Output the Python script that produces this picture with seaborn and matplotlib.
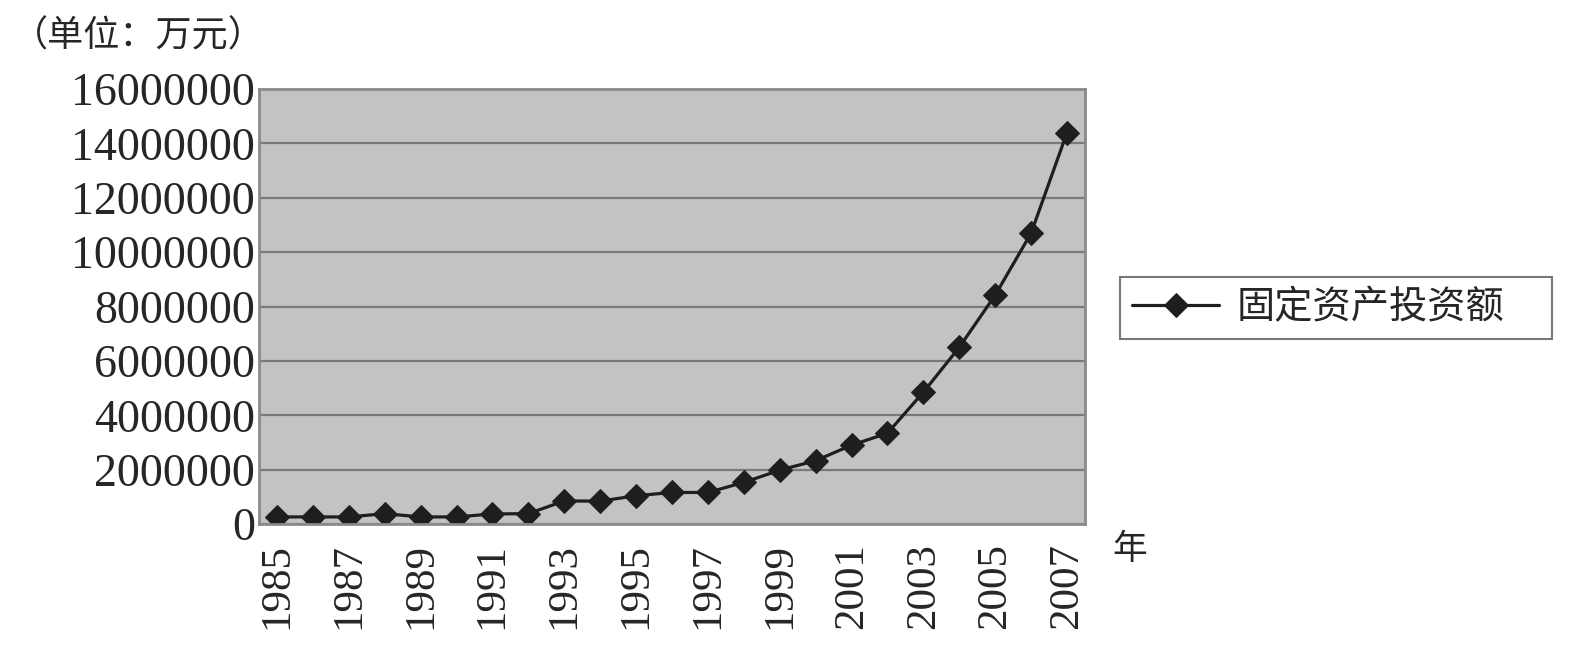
import numpy as np
import pandas as pd
import matplotlib
matplotlib.use("Agg")
import matplotlib.pyplot as plt
from matplotlib.patches import Rectangle
import seaborn as sns

# 固定资产投资额 (万元)
years = list(range(1985, 2008))
invest = [260000, 260000, 260000, 380000, 260000, 260000, 370000, 380000,
          850000, 840000, 1040000, 1160000, 1160000, 1530000, 1980000, 2330000,
          2900000, 3340000, 4850000, 6500000, 8420000, 10700000, 14400000]
yticks = list(range(0, 16000001, 2000000))
series_name = "固定资产投资额"

sns.set_theme(style="white")
plt.rcParams["font.family"] = ["Liberation Serif", "Noto Sans CJK SC", "DejaVu Sans"]

df = pd.DataFrame({"pos": np.arange(len(years)), "value": invest})

fig = plt.figure(figsize=(15.8, 6.46), dpi=100)
ax = fig.add_axes([259 / 1580, 1 - 524 / 646, (1085 - 259) / 1580, (524 - 89) / 646])
ax.set_facecolor("#c3c3c3")

sns.lineplot(data=df, x="pos", y="value", ax=ax, color="#1e1e1e", linewidth=2.3,
             marker="D", markersize=12, markeredgecolor="#1e1e1e", label=series_name)

ax.set_xlim(-0.5, len(years) - 0.5)
ax.set_ylim(0, 16000000)
ax.set_yticks(yticks)
ax.set_yticklabels([str(v) for v in yticks], fontsize=33)
ax.yaxis.grid(True, color="#7a7a7a", linewidth=1.6)
ax.set_axisbelow(True)

# labels on every other year, tick marks at category boundaries
ax.set_xticks(np.arange(0, len(years), 2))
ax.set_xticklabels([str(y) for y in years[::2]], rotation=90, fontsize=31)
ax.set_xticks(np.arange(-0.5, len(years), 1), minor=True)
ax.tick_params(axis="x", which="major", length=0, pad=14)
ax.tick_params(axis="x", which="minor", direction="in", length=9, width=1.4, color="#555555")
ax.tick_params(axis="y", length=0, pad=3)
ax.set_xlabel("")
ax.set_ylabel("")
for sp in ax.spines.values():
    sp.set_color("#8a8a8a")
    sp.set_linewidth(2)

# legend: contents without frame, box drawn separately (wide right margin)
ax.get_legend().remove()
h, l = ax.get_legend_handles_labels()
fig.legend(h, l, loc="center", bbox_to_anchor=(1318 / 1580, 1 - 308 / 646),
           prop={"family": ["Noto Sans CJK SC"], "size": 27.5}, frameon=False,
           handlelength=2.3, borderpad=0, handletextpad=0.45)
fig.patches.append(Rectangle((1120 / 1580, 1 - 339 / 646), 432 / 1580, 62 / 646,
                             transform=fig.transFigure, fill=False,
                             edgecolor="#777777", linewidth=1.5))

fig.text(12 / 1580, 1 - 36 / 646, "（单位：万元）", fontsize=26, va="center",
         family=["Noto Sans CJK SC"])
fig.text(1112 / 1580, 1 - 550 / 646, "年", fontsize=25, va="center",
         family=["Noto Sans CJK SC"])

fig.savefig("out.png", dpi=100)
